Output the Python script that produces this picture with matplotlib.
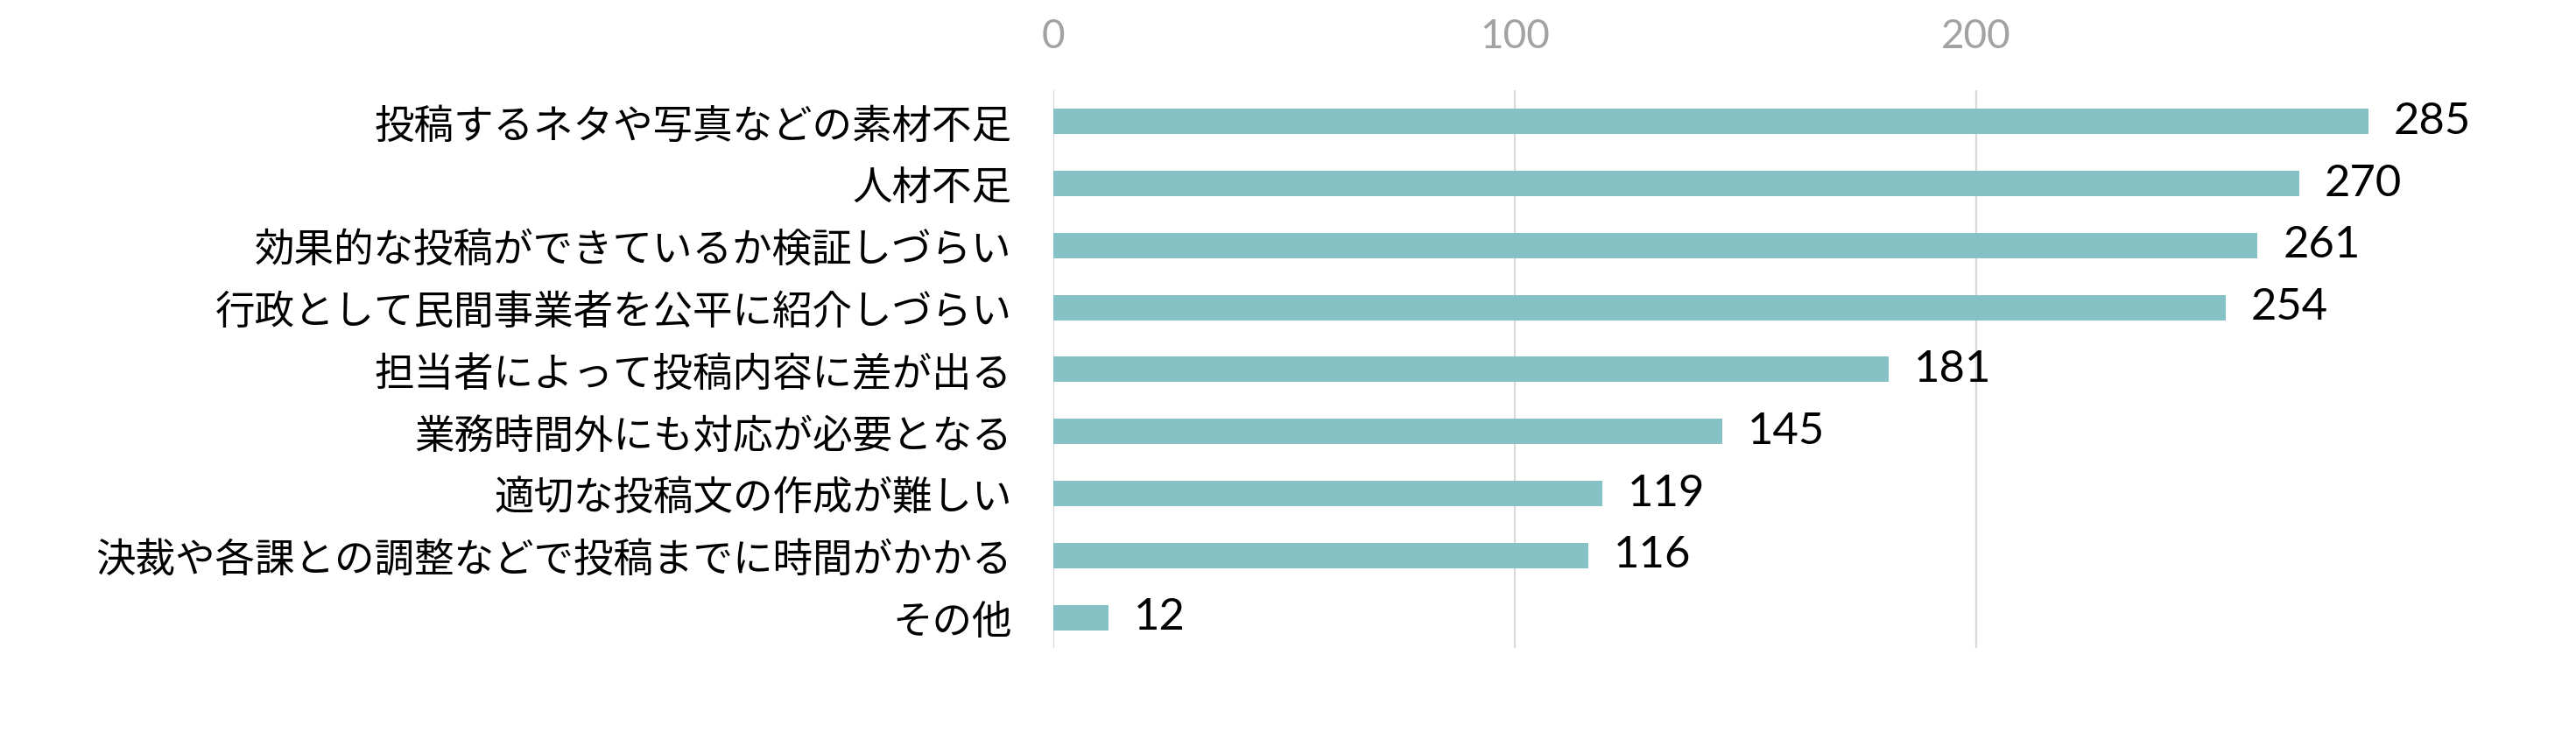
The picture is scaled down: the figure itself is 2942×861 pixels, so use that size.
import matplotlib
matplotlib.use("Agg")
import matplotlib.pyplot as plt

categories = [
    "投稿するネタや写真などの素材不足",
    "人材不足",
    "効果的な投稿ができているか検証しづらい",
    "行政として民間事業者を公平に紹介しづらい",
    "担当者によって投稿内容に差が出る",
    "業務時間外にも対応が必要となる",
    "適切な投稿文の作成が難しい",
    "決裁や各課との調整などで投稿までに時間がかかる",
    "その他",
]
values = [285, 270, 261, 254, 181, 145, 119, 116, 12]
xticks = [0, 100, 200]

plt.rcParams['font.family'] = ['Noto Sans CJK JP', 'DejaVu Sans']

fig = plt.figure(figsize=(29.42, 8.61), dpi=100)
ax = fig.add_axes([0.4089, 0.140, 0.9194 - 0.4089, 0.8798 - 0.140])

ypos = list(range(len(categories)))
ax.barh(ypos, values, height=0.41, color="#86C1C6", zorder=3)

ax.set_ylim(len(categories) - 0.5, -0.5)
ax.set_xlim(0, 285)

ax.set_yticks(ypos)
ax.set_yticklabels(categories, fontsize=32.8, color="black")
ax.tick_params(axis='y', length=0, pad=34)

ax.set_xticks(xticks)
ax.set_xticklabels([str(t) for t in xticks], fontsize=33, color="#A2A2A2",
                   family=['Lato', 'DejaVu Sans'])
ax.xaxis.tick_top()
ax.tick_params(axis='x', length=0, pad=29)

ax.grid(axis='x', color="#D9D9D9", linewidth=1.6, zorder=0)
for s in ax.spines.values():
    s.set_visible(False)

for y, v in zip(ypos, values):
    ax.text(v + 5.5, y, str(v), va='center', ha='left', fontsize=36.5,
            family=['Lato', 'DejaVu Sans'], color="black", clip_on=False)

fig.savefig("out.png", dpi=100, facecolor="white")
